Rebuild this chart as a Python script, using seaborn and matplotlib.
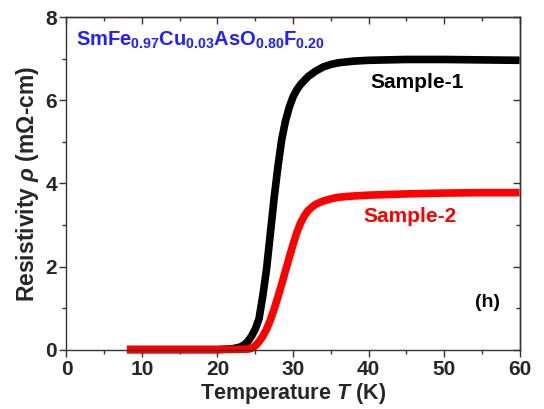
import matplotlib
matplotlib.use("Agg")
import matplotlib.pyplot as plt
import seaborn as sns
import pandas as pd
from matplotlib.ticker import MultipleLocator

# ---- data ----
T1 = [8, 15, 20, 22, 23, 23.5, 24, 24.5, 25, 25.5, 26, 26.5, 27, 27.5, 28, 28.5,
      29, 29.5, 30, 30.5, 31, 32, 33, 34, 35, 36, 38, 40, 45, 50, 55, 60]
rho1 = [0.01, 0.01, 0.01, 0.03, 0.07, 0.12, 0.2, 0.33, 0.5, 0.75, 1.3, 1.95, 2.8,
        3.65, 4.4, 5.05, 5.5, 5.83, 6.08, 6.25, 6.38, 6.57, 6.7, 6.8, 6.86, 6.9,
        6.94, 6.96, 6.98, 6.98, 6.97, 6.96]
T2 = [8, 15, 20, 24, 24.5, 25, 25.5, 26, 26.5, 27, 27.5, 28, 28.5, 29, 29.5, 30,
      30.5, 31, 31.5, 32, 32.5, 33, 34, 35, 36, 38, 40, 45, 50, 55, 60]
rho2 = [0.01, 0.01, 0.01, 0.02, 0.04, 0.1, 0.2, 0.33, 0.5, 0.72, 0.98, 1.27, 1.58,
        1.9, 2.22, 2.53, 2.82, 3.05, 3.22, 3.35, 3.43, 3.5, 3.58, 3.63, 3.67, 3.7,
        3.72, 3.75, 3.77, 3.78, 3.78]
series_names = ["Sample-1", "Sample-2"]
formula = r"$\mathbf{SmFe_{0.97}Cu_{0.03}AsO_{0.80}F_{0.20}}$"
panel_label = "(h)"
x_ticks = [0, 10, 20, 30, 40, 50, 60]
y_ticks = [0, 2, 4, 6, 8]

df1 = pd.DataFrame({"T": T1, "rho": rho1})
df2 = pd.DataFrame({"T": T2, "rho": rho2})

sns.set_theme(style="ticks")
plt.rcParams["font.family"] = ["Liberation Sans", "DejaVu Sans"]
plt.rcParams["font.weight"] = "bold"
plt.rcParams["axes.labelweight"] = "bold"
plt.rcParams["mathtext.fontset"] = "custom"
plt.rcParams["mathtext.bf"] = "Liberation Sans:bold"
plt.rcParams["mathtext.rm"] = "Liberation Sans:bold"
plt.rcParams["mathtext.it"] = "Liberation Sans:italic:bold"

fig = plt.figure(figsize=(5.44, 4.09), dpi=100)
ax = fig.add_axes([0.1222, 0.1443, 0.955 - 0.1222, 0.9584 - 0.1443])

sns.lineplot(data=df1, x="T", y="rho", color="#000000", lw=5.5, ax=ax,
             solid_capstyle="butt", clip_on=False)
sns.lineplot(data=df2, x="T", y="rho", color="#ff0000", lw=5.5, ax=ax,
             solid_capstyle="butt", clip_on=False)

ax.set_xlim(0, 60)
ax.set_ylim(0, 8)
ax.set_xticks(x_ticks)
ax.set_yticks(y_ticks)
ax.xaxis.set_minor_locator(MultipleLocator(5))
ax.yaxis.set_minor_locator(MultipleLocator(1))
ax.tick_params(which="both", direction="out", labelsize=15, width=1, color="#333333",
               pad=2)
ax.tick_params(which="major", length=5)
ax.tick_params(which="minor", length=3)
for lab in ax.get_xticklabels() + ax.get_yticklabels():
    lab.set_fontweight("bold")

for s in ax.spines.values():
    s.set_visible(True)
    s.set_linewidth(1.0)
    s.set_color("#333333")

secx = ax.secondary_xaxis("top")
secx.set_xticks(x_ticks)
secx.xaxis.set_minor_locator(MultipleLocator(5))
secx.tick_params(which="both", direction="in", labeltop=False, width=1, color="#333333")
secx.tick_params(which="major", length=5)
secx.tick_params(which="minor", length=3)
secy = ax.secondary_yaxis("right")
secy.set_yticks(y_ticks)
secy.yaxis.set_minor_locator(MultipleLocator(1))
secy.tick_params(which="both", direction="in", labelright=False, width=1, color="#333333")
secy.tick_params(which="major", length=5)
secy.tick_params(which="minor", length=3)
for sa in (secx, secy):
    for s in sa.spines.values():
        s.set_linewidth(1.0)
        s.set_color("#333333")

ax.set_xlabel(r"Temperature $T$ (K)", fontsize=15.5, fontweight="bold", labelpad=2)
ax.set_ylabel(r"Resistivity $\rho$ (mΩ-cm)", fontsize=16.5, fontweight="bold", labelpad=3)

ax.text(1.2, 7.3, formula, color="#1f1fff", fontsize=14.5, va="baseline", ha="left")
ax.text(46.4, 6.42, series_names[0], color="#000000", fontsize=15, fontweight="bold",
        ha="center", va="center")
ax.text(45.5, 3.2, series_names[1], color="#ff0000", fontsize=15, fontweight="bold",
        ha="center", va="center")
ax.text(55.8, 1.13, panel_label, color="#000000", fontsize=14, fontweight="bold",
        ha="center", va="center")

fig.savefig("out.png", dpi=100, facecolor="white")
